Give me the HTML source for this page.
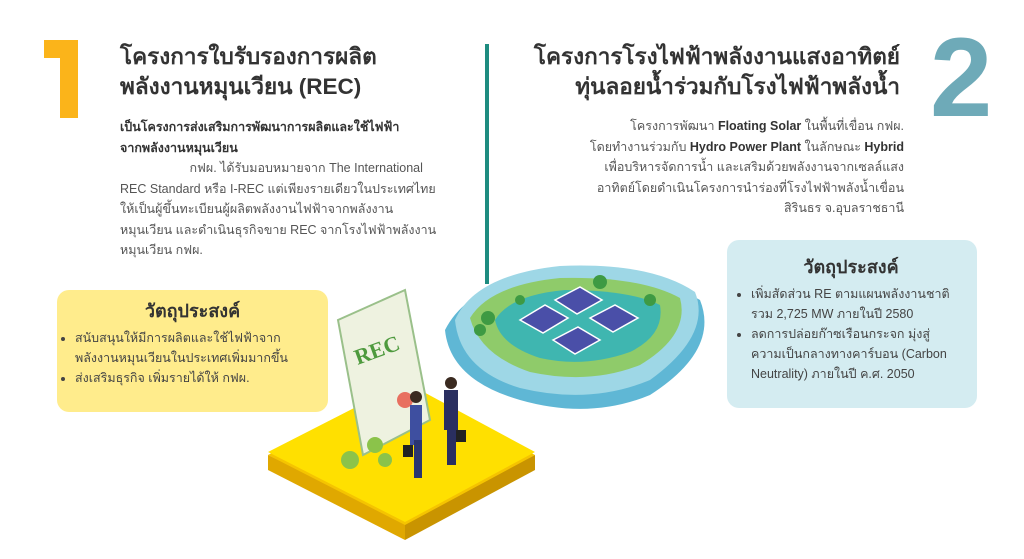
<!DOCTYPE html>
<html><head><meta charset="utf-8"><style>
body{margin:0;width:1024px;height:559px;background:#fff;position:relative;overflow:hidden;font-family:"Liberation Sans","Noto Sans CJK SC",sans-serif;}
.a{position:absolute;}
.t{font-size:22.5px;font-weight:bold;color:#333;line-height:30px;white-space:nowrap;}
.b{font-size:12.5px;color:#555;line-height:20.5px;white-space:nowrap;}
.b b{color:#333;}
.box h3{margin:0;text-align:center;font-size:18px;color:#333;line-height:26px;}
.box ul{margin:4px 0 0 0;padding-left:18px;font-size:12.5px;color:#444;line-height:20px;white-space:nowrap;}
</style></head><body>
<svg class="a" style="left:0;top:0" width="100" height="130"><path d="M44 40 L78 40 L78 118 L60 118 L60 58 L44 58Z" fill="#FBB41A"/></svg>
<div class="a t" style="left:120px;top:42px;">โครงการใบรับรองการผลิต<br>พลังงานหมุนเวียน (REC)</div>
<div class="a b" style="left:120px;top:117px;"><b>เป็นโครงการส่งเสริมการพัฒนาการผลิตและใช้ไฟฟ้า<br>จากพลังงานหมุนเวียน</b><br>&nbsp;&nbsp;&nbsp;&nbsp;&nbsp;&nbsp;&nbsp;&nbsp;&nbsp;&nbsp;&nbsp;&nbsp;&nbsp;&nbsp;&nbsp;&nbsp;&nbsp;&nbsp;&nbsp;&nbsp;กฟผ. ได้รับมอบหมายจาก The International<br>REC Standard หรือ I-REC แต่เพียงรายเดียวในประเทศไทย<br>ให้เป็นผู้ขึ้นทะเบียนผู้ผลิตพลังงานไฟฟ้าจากพลังงาน<br>หมุนเวียน และดำเนินธุรกิจขาย REC จากโรงไฟฟ้าพลังงาน<br>หมุนเวียน กฟผ.</div>
<div class="a box" style="left:57px;top:290px;width:271px;height:122px;background:#FFEC8C;border-radius:12px;padding-top:8px;box-sizing:border-box;">
<h3>วัตถุประสงค์</h3><ul><li>สนับสนุนให้มีการผลิตและใช้ไฟฟ้าจาก<br>พลังงานหมุนเวียนในประเทศเพิ่มมากขึ้น</li><li>ส่งเสริมธุรกิจ เพิ่มรายได้ให้ กฟผ.</li></ul></div>
<div class="a" style="left:485px;top:44px;width:4px;height:240px;background:#1E8C80;"></div>
<div class="a t" style="right:124px;top:42px;text-align:right;">โครงการโรงไฟฟ้าพลังงานแสงอาทิตย์<br>ทุ่นลอยน้ำร่วมกับโรงไฟฟ้าพลังน้ำ</div>
<div class="a" style="left:930px;top:22px;font-size:112px;font-weight:bold;color:#6EAAB8;line-height:112px;">2</div>
<div class="a b" style="right:120px;top:116px;text-align:right;">โครงการพัฒนา <b>Floating Solar</b> ในพื้นที่เขื่อน กฟผ.<br>โดยทำงานร่วมกับ <b>Hydro Power Plant</b> ในลักษณะ <b>Hybrid</b><br>เพื่อบริหารจัดการน้ำ และเสริมด้วยพลังงานจากเซลล์แสง<br>อาทิตย์โดยดำเนินโครงการนำร่องที่โรงไฟฟ้าพลังน้ำเขื่อน<br>สิรินธร จ.อุบลราชธานี</div>
<div class="a box" style="left:727px;top:240px;width:250px;height:168px;background:#D4ECF1;border-radius:12px;padding:14px 8px 0 6px;box-sizing:border-box;">
<h3>วัตถุประสงค์</h3><ul><li>เพิ่มสัดส่วน RE ตามแผนพลังงานชาติ<br>รวม 2,725 MW ภายในปี 2580</li><li>ลดการปล่อยก๊าซเรือนกระจก มุ่งสู่<br>ความเป็นกลางทางคาร์บอน (Carbon<br>Neutrality) ภายในปี ค.ศ. 2050</li></ul></div>
<svg class="a" style="left:0;top:0" width="1024" height="559">
<path d="M445 330 Q470 280 560 272 Q650 270 700 300 Q720 350 650 395 Q590 420 520 400 Q450 380 445 330Z" fill="#5FB7D5"/>
<path d="M455 320 Q475 275 560 266 Q650 262 695 292 Q712 335 650 380 Q590 405 520 388 Q460 370 455 320Z" fill="#9ED7E6"/>
<path d="M470 318 Q490 285 560 278 Q640 276 680 298 Q690 335 640 365 Q590 385 530 372 Q480 355 470 318Z" fill="#8FCB6A"/>
<path d="M495 320 Q510 295 565 290 Q630 290 660 305 Q665 335 630 352 Q585 368 540 358 Q500 345 495 320Z" fill="#3FB6B0"/>
<g fill="#4A4FA8" stroke="#fff" stroke-width="1.5">
<path d="M520 320 L545 305 L568 318 L543 333Z"/><path d="M555 300 L580 287 L602 300 L577 314Z"/>
<path d="M590 318 L615 305 L638 318 L613 332Z"/><path d="M553 340 L578 327 L600 340 L575 354Z"/></g>
<g fill="#3E9A43"><circle cx="488" cy="318" r="7"/><circle cx="480" cy="330" r="6"/><circle cx="600" cy="282" r="7"/><circle cx="650" cy="300" r="6"/><circle cx="520" cy="300" r="5"/></g>
<path d="M268 455 L405 385 L535 455 L405 530 Z" fill="#F5C400"/>
<path d="M268 455 L405 525 L405 540 L268 470Z" fill="#E0A800"/>
<path d="M535 455 L405 525 L405 540 L535 470Z" fill="#C99400"/>
<path d="M268 452 L405 382 L535 452 L405 522 Z" fill="#FFE000"/>
<path d="M338 320 L405 290 L430 420 L363 455Z" fill="#EEF2E0" stroke="#9AC08A" stroke-width="2"/>
<text x="355" y="360" font-size="22" fill="#4E9A3E" font-family="Liberation Serif" font-weight="bold" transform="rotate(-20 370 355)">REC</text>
<circle cx="405" cy="400" r="8" fill="#E87060"/>
<g fill="#8BC34A"><circle cx="350" cy="460" r="9"/><circle cx="375" cy="445" r="8"/><circle cx="385" cy="460" r="7"/></g>
<rect x="410" y="405" width="12" height="40" fill="#3E4FA0"/><rect x="414" y="440" width="8" height="38" fill="#2A3570"/><circle cx="416" cy="397" r="6" fill="#3A2A20"/>
<rect x="444" y="390" width="14" height="40" fill="#2A2F60"/><rect x="447" y="425" width="9" height="40" fill="#2A2F60"/><circle cx="451" cy="383" r="6" fill="#3A2A20"/>
<rect x="403" y="445" width="10" height="12" fill="#222"/><rect x="456" y="430" width="10" height="12" fill="#222"/>
</svg>
</body></html>
